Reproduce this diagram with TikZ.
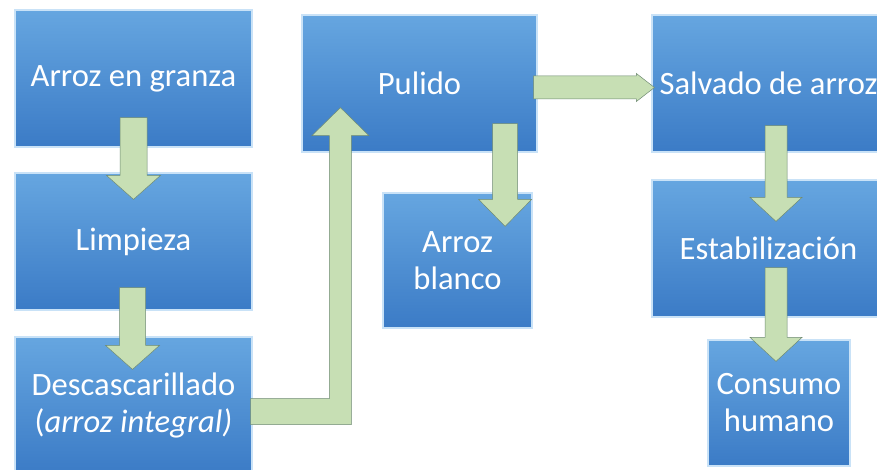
\documentclass[tikz,border=0pt]{standalone}
\usepackage{fontspec}
\setmainfont{Carlito}
\usetikzlibrary{calc,shadings}
\definecolor{boxtop}{HTML}{66A6E0}
\definecolor{boxbot}{HTML}{3B7BC6}
\definecolor{glow}{HTML}{C9E2F7}
\definecolor{arrfill}{HTML}{C7DFB4}
\definecolor{arrline}{HTML}{6E8A72}
\tikzset{
  stepbox/.style={rectangle, minimum width=#1, inner sep=0pt, top color=boxtop, bottom color=boxbot,
    draw=glow, line width=1.2pt, text=white, font=\fontsize{32.6}{37}\selectfont, align=center},
  blockarrow/.style={fill=arrfill, draw=arrline, line width=0.5pt, line join=miter},
}
% vertical block arrow: #1 start, #2 tip, #3 shaft half width, #4 head half width, #5 head length (signed, toward start)
\newcommand\vblock[5]{%
  \draw[blockarrow] let \p1=#1, \p2=#2 in
    (\x1-#3,\y1) -- (\x1+#3,\y1) -- (\x1+#3,\y2+#5) -- (\x1+#4,\y2+#5) -- (\x1,\y2)
    -- (\x1-#4,\y2+#5) -- (\x1-#3,\y2+#5) -- cycle;}
\begin{document}
\begin{tikzpicture}[x=1pt,y=1pt]
\useasboundingbox (0,0) rectangle (877,469);
\fill[white] (0,0) rectangle (877,469);
\begin{scope}
\clip (0,0) rectangle (877,469);
% boxes
\node[stepbox=237pt, minimum height=137pt] (b1) at (133.5,390.5) {Arroz en granza};
\node[stepbox=237pt, minimum height=137pt] (b2) at (133.5,227.5) {Limpieza};
\node[stepbox=237pt, minimum height=137pt] (b3) at (133.5,63.5) {Descascarillado\\(\textit{arroz integral)}};
\node[stepbox=235pt, minimum height=137pt] (pul) at (419.5,385.5) {Pulido};
\node[stepbox=149pt, minimum height=135pt] (bla) at (457.5,208.5) {Arroz\\blanco};
\node[stepbox=233pt, minimum height=137pt] (sal) at (768.5,385.5) {Salvado de arroz};
\node[stepbox=233pt, minimum height=137pt] (est) at (768.5,220.5) {Estabilización};
\node[stepbox=142pt, minimum height=126pt] (con) at (779,66) {Consumo\\humano};
% arrow anchor points
\coordinate (a1s) at ($(b1.south)+(0,30)$);
\coordinate (a1t) at ($(b2.north)+(0,-27)$);
\coordinate (a2s) at ($(b2.south)+(-1,23)$);
\coordinate (a2t) at ($(b3.north)+(-1,-33)$);
\coordinate (p1s) at ($(pul.south east)+(-32.5,29)$);
\coordinate (p1t) at ($(p1s |- bla.north)+(0,-34)$);
\coordinate (s1s) at ($(sal.south)+(7.5,27)$);
\coordinate (s1t) at ($(s1s |- est.north)+(0,-42)$);
\coordinate (e1s) at ($(est.south)+(7.5,50)$);
\coordinate (e1t) at ($(e1s |- con.north)+(0,-22)$);
\coordinate (hs) at ($(pul.east)+(-4,-4)$);
\coordinate (ht) at ($(sal.west)+(3,-4)$);
\coordinate (ls) at ($(b3.east)+(-2,-6)$);
\coordinate (lt) at ($(pul.south west)+(39,45)$);
% vertical arrows
\vblock{(a1s)}{(a1t)}{13.5}{27}{24}
\vblock{(a2s)}{(a2t)}{13}{27}{24}
\vblock{(p1s)}{(p1t)}{12.5}{26.5}{27}
\vblock{(s1s)}{(s1t)}{11}{26}{24}
\vblock{(e1s)}{(e1t)}{11}{26}{24}
% horizontal arrow Pulido -> Salvado
\draw[blockarrow] let \p1=(hs), \p2=(ht) in
  (\x1,\y1+11.5) -- (\x2-18,\y1+11.5) -- (\x2-18,\y1+14) -- (\x2,\y1) -- (\x2-18,\y1-14)
  -- (\x2-18,\y1-11.5) -- (\x1,\y1-11.5) -- cycle;
% elbow arrow Descascarillado -> Pulido
\draw[blockarrow] let \p1=(ls), \p2=(lt) in
  (\x1,\y1+13) -- (\x2-11,\y1+13) -- (\x2-11,\y2-28) -- (\x2-28.5,\y2-28) -- (\x2,\y2)
  -- (\x2+28.5,\y2-28) -- (\x2+11,\y2-28) -- (\x2+11,\y1-13) -- (\x1,\y1-13) -- cycle;
\end{scope}
\end{tikzpicture}
\end{document}
